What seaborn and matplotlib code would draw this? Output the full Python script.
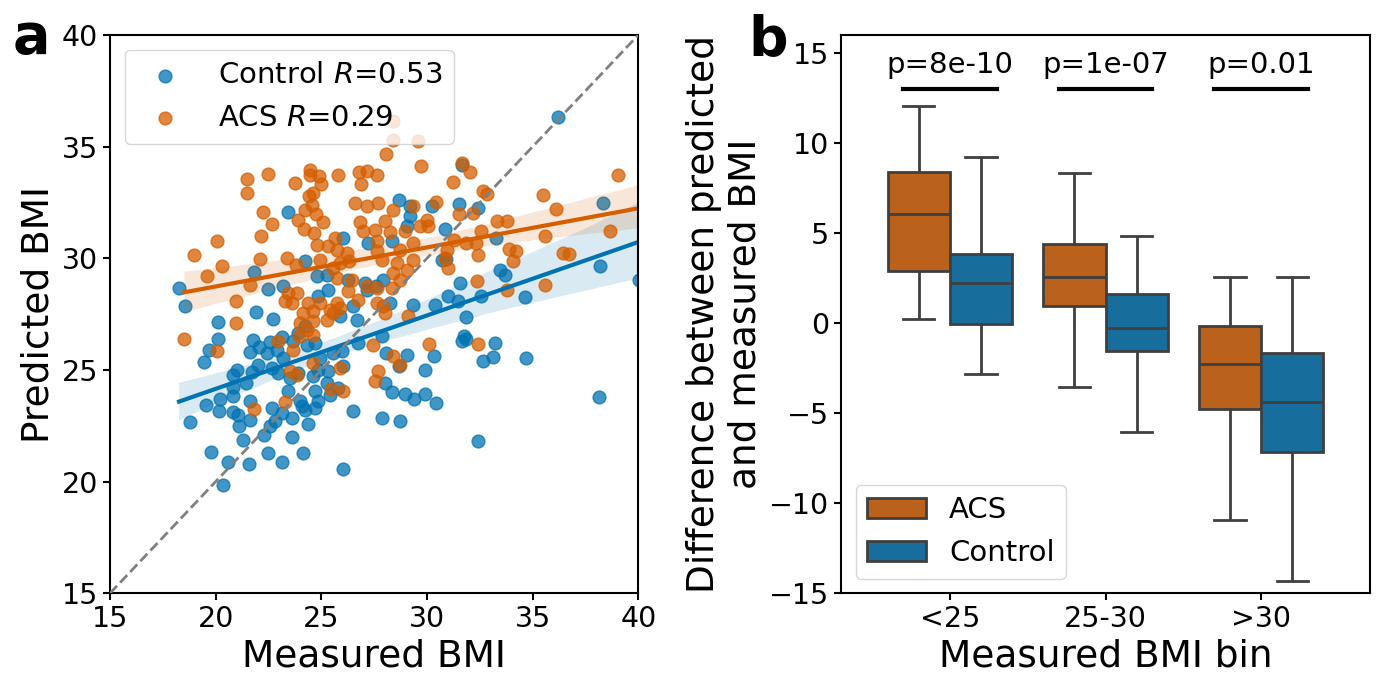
import numpy as np
import pandas as pd
import matplotlib
matplotlib.use("Agg")
import matplotlib.pyplot as plt
import seaborn as sns

# ---------------- panel a data ----------------
control_x = [18.27, 18.55, 23.44, 21.83, 22.49, 23.17, 21.89, 22.73, 20.09, 24.23, 26.04, 27.22,
             24.78, 25.26, 26.28, 27.07, 27.15, 24.86, 25.3, 26.5, 24.23, 25.9, 26.7,
             36.21, 31.64, 28.69, 29.19, 29.19, 30.22, 31.53, 32.43, 30.85, 29.04, 28.33, 33.29,
             30.69, 30.9, 33.45, 33.69, 38.34, 38.18, 40.04, 31.56, 31.0, 30.38, 31.48, 32.58,
             34.63, 31.87, 29.35, 28.25, 27.93, 27.6,
             20.13, 19.7, 19.46, 21.78, 21.65, 22.07, 22.41, 22.57, 22.89, 23.12, 23.2, 23.67,
             23.91, 24.31, 24.7, 24.94, 25.57, 25.96, 26.04, 20.99, 20.84, 21.44, 21.7, 22.02,
             22.65, 22.97, 23.52, 23.91, 24.62, 24.86, 25.33, 25.25, 25.41, 25.8, 20.84, 20.81,
             20.2, 19.54, 20.17, 20.8, 21.07, 21.62, 21.62, 21.12, 21.28, 18.79, 19.78, 20.57,
             20.33, 21.56, 22.49, 23.12, 24.12, 23.6, 22.3, 22.57, 22.8, 22.65, 23.12, 23.6,
             23.41, 24.0, 24.23, 24.07, 24.7, 24.39, 24.86, 24.7, 26.48, 26.04, 26.75,
             31.64, 31.87, 31.76, 33.21, 27.85, 28.06, 29.07, 28.69, 30.34, 29.9, 32.63, 33.14,
             34.68, 28.01, 28.33, 28.96, 29.4, 29.9, 30.42, 27.88, 28.72, 32.43, 38.12]
control_y = [28.67, 27.85, 32.06, 29.39, 28.63, 28.75, 27.58, 27.29, 27.17, 29.87, 30.91, 30.69,
             29.19, 29.27, 29.05, 28.9, 28.6, 28.3, 28.6, 27.85, 26.96, 27.4, 27.25,
             36.31, 34.19, 32.62, 32.33, 31.88, 32.33, 32.45, 32.25, 31.31, 31.43, 30.76, 30.91,
             29.94, 29.97, 29.49, 29.27, 32.5, 29.64, 29.05, 28.9, 28.3, 27.93, 28.08, 28.3,
             28.25, 27.38, 27.93, 28.0, 29.05, 28.75,
             26.39, 25.88, 25.35, 26.36, 25.79, 26.02, 25.76, 26.24, 25.91, 26.48, 25.54, 26.29,
             26.66, 26.14, 26.21, 25.54, 25.76, 25.84, 25.17, 25.02, 24.79, 24.42, 24.9, 25.24,
             25.09, 24.87, 24.65, 24.87, 24.72, 25.02, 24.94, 24.42, 23.9, 24.2, 24.24, 23.82,
             23.7, 23.45, 23.18, 23.11, 23.0, 23.6, 22.78, 22.48, 21.86, 22.66, 21.32, 20.87,
             19.84, 20.78, 21.29, 20.89, 21.29, 21.99, 22.11, 22.48, 22.7, 23.3, 23.08, 22.86,
             24.05, 23.6, 23.23, 23.38, 23.3, 22.56, 23.6, 24.05, 23.18, 20.57, 26.21,
             26.29, 26.39, 26.51, 26.21, 26.54, 25.76, 25.69, 25.17, 25.64, 25.02, 25.39, 25.58,
             25.53, 24.42, 24.0, 23.93, 23.68, 23.93, 23.53, 22.86, 22.71, 21.81, 23.78]

acs_x = [21.5, 21.5, 22.49, 23.75, 24.46, 24.46, 24.89, 25.0, 25.8, 26.8, 27.14, 26.88, 24.62,
         24.43, 24.54, 24.23, 24.75, 25.06, 23.88, 24.18, 24.67, 26.59, 27.14, 26.83, 26.99,
         22.26, 22.65, 22.15, 20.05, 18.97, 20.3, 19.57, 22.1, 21.62, 23.36, 23.8, 24.8, 25.3,
         25.65, 25.76, 26.2, 26.33, 25.9, 24.94, 25.57, 25.73, 26.28, 26.44, 27.15, 23.44,
         23.83, 23.28, 23.6, 24.15, 24.38, 24.62, 24.94, 25.4, 25.57, 25.88, 25.73, 20.96,
         20.96, 23.99, 24.62, 25.25, 26.75,
         28.4, 28.4, 29.59, 28.06, 29.74, 27.65, 31.64, 32.03, 31.21, 32.66, 32.85, 35.5, 36.09,
         39.05, 30.45, 28.4, 27.69, 29.35, 31.53, 32.19, 29.98, 30.06, 29.67, 28.0, 27.54, 28.25,
         28.96, 27.62, 29.35, 32.58, 33.33, 33.8, 35.58, 38.66, 31.29, 31.87, 32.32, 30.96, 30.85,
         31.0, 32.43, 33.89, 34.21, 34.08, 36.42, 36.73, 27.62, 27.85, 28.72, 28.56, 29.35, 29.04,
         28.4, 28.72, 27.62, 28.33, 32.38, 33.77, 35.58, 27.93, 29.11, 28.01, 27.62,
         18.52, 20.05, 22.94, 23.64, 23.96, 24.31, 24.62, 24.62, 23.52, 23.83, 21.83, 23.28,
         25.46, 26.01, 25.88, 27.43, 27.7, 27.54,
         30.11, 32.43, 28.37, 28.72, 40.6]
acs_y = [33.55, 32.92, 33.79, 33.37, 33.97, 33.74, 33.67, 33.34, 33.74, 33.85, 33.9, 33.34, 32.92,
         32.77, 32.4, 32.18, 32.0, 31.61, 31.73, 31.31, 31.13, 32.48, 32.36, 31.61, 31.21,
         32.06, 31.55, 30.98, 30.76, 30.16, 29.64, 29.19, 29.97, 28.82, 30.0, 29.72, 30.61, 30.54,
         30.9, 30.39, 30.24, 29.87, 29.8, 29.94, 29.57, 29.12, 28.52, 29.05, 28.75, 28.45,
         28.45, 28.08, 28.0, 27.55, 28.0, 27.63, 28.0, 27.7, 27.55, 27.78, 28.0, 28.08,
         27.1, 27.1, 27.18, 27.25, 28.15,
         36.13, 35.31, 35.26, 34.67, 34.15, 33.74, 34.27, 33.85, 33.4, 33.0, 32.89, 32.82, 32.22,
         33.74, 32.52, 32.18, 32.48, 32.33, 31.98, 32.03, 31.73, 31.43, 31.43, 31.66, 31.28, 31.16,
         31.21, 30.76, 30.69, 31.21, 31.66, 31.66, 30.98, 31.24, 30.84, 30.69, 30.69, 30.39, 30.01,
         29.57, 30.16, 30.42, 30.31, 29.87, 30.24, 30.21, 30.31, 29.94, 30.39, 29.79, 29.94, 29.49,
         29.34, 29.05, 28.67, 28.67, 28.97, 28.6, 28.82, 27.85, 27.4, 27.55, 28.0,
         26.4, 25.87, 26.29, 25.88, 26.54, 26.81, 26.58, 25.32, 24.97, 24.79, 23.27, 23.56,
         24.15, 24.05, 25.09, 26.14, 24.94, 24.5,
         26.17, 26.18, 25.62, 25.21, 32.3]

legend_labels = ["Control $R$=0.53", "ACS $R$=0.29"]

# ---------------- panel b data (box summaries) ----------------
bins = ["<25", "25-30", ">30"]
groups = ["ACS", "Control"]
acs_box = {"<25": [0.21, 2.91, 6.04, 8.41, 12.04],
           "25-30": [-3.52, 0.98, 2.57, 4.41, 8.32],
           ">30": [-10.91, -4.78, -2.24, -0.14, 2.54]}
control_box = {"<25": [-2.83, -0.07, 2.21, 3.85, 9.24],
               "25-30": [-6.04, -1.54, -0.28, 1.63, 4.85],
               ">30": [-14.33, -7.18, -4.39, -1.63, 2.54]}
p_labels = ["p=8e-10", "p=1e-07", "p=0.01"]

BLUE = "#0173b2"
ORANGE = "#d55e00"

plt.rcParams.update({
    "font.size": 20,
    "axes.linewidth": 1.5,
    "xtick.major.width": 1.5, "ytick.major.width": 1.5,
    "xtick.major.size": 5, "ytick.major.size": 5,
    "xtick.labelsize": 20.5, "ytick.labelsize": 20.5,
    "axes.labelsize": 27, "legend.fontsize": 21,
})

fig = plt.figure(figsize=(13.78, 6.8), dpi=100)
ax1 = fig.add_axes([0.0798, 0.1275, 0.3834, 0.8210])
ax2 = fig.add_axes([0.6103, 0.1275, 0.3839, 0.8210])

# ---------------- panel a ----------------
sns.regplot(x=control_x, y=control_y, ax=ax1, color=BLUE, label=legend_labels[0],
            scatter_kws=dict(s=85, alpha=0.75, linewidths=1), line_kws=dict(lw=3), seed=0)
sns.regplot(x=acs_x, y=acs_y, ax=ax1, color=ORANGE, label=legend_labels[1],
            scatter_kws=dict(s=85, alpha=0.75, linewidths=1), line_kws=dict(lw=3), seed=0)
ax1.plot([15, 40], [15, 40], ls="--", color="gray", lw=2, zorder=5)
ax1.set_xlim(15, 40)
ax1.set_ylim(15, 40)
ax1.set_xticks(range(15, 41, 5))
ax1.set_yticks(range(15, 41, 5))
ax1.set_xlabel("Measured BMI")
ax1.set_ylabel("Predicted BMI")
ax1.legend(loc="upper left")

# ---------------- panel b ----------------
rows = []
for b in bins:
    for v in acs_box[b]:
        rows.append((b, "ACS", v))
    for v in control_box[b]:
        rows.append((b, "Control", v))
df = pd.DataFrame(rows, columns=["bin", "group", "diff"])

sns.boxplot(data=df, x="bin", y="diff", hue="group", order=bins, hue_order=groups,
            palette={"ACS": ORANGE, "Control": BLUE}, saturation=0.75,
            linewidth=2, linecolor="#3f3f3f", ax=ax2)
for i, p in enumerate(p_labels):
    ax2.plot([i - 0.3, i + 0.3], [13, 13], color="black", lw=3)
    ax2.text(i, 13.9, p, ha="center", va="baseline", fontsize=21)
ax2.set_xlim(-0.7, 2.7)
ax2.set_ylim(-15, 16)
ax2.set_yticks(range(-15, 16, 5))
ax2.set_xlabel("Measured BMI bin")
ax2.set_ylabel("Difference between predicted\nand measured BMI")
sns.move_legend(ax2, "lower left", title=None, fontsize=21)

fig.text(0.009, 0.922, "a", fontsize=40, fontweight="bold", va="baseline")
fig.text(0.543, 0.919, "b", fontsize=40, fontweight="bold", va="baseline")

fig.savefig("out.png", dpi=100)
